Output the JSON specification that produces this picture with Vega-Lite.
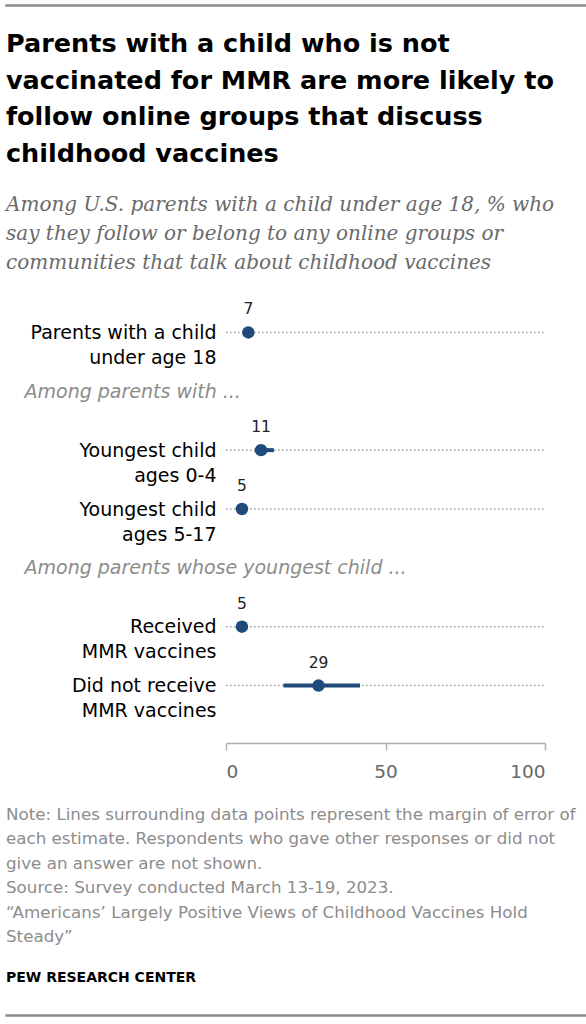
{
  "$schema": "https://vega.github.io/schema/vega-lite/v6.json",
  "background": "white",
  "padding": {"left": 5, "top": 4, "right": 0, "bottom": 0},
  "spacing": 25,
  "config": {
    "font": "DejaVu Sans",
    "view": {"stroke": null}
  },
  "vconcat": [
    {
      "width": 581,
      "height": 1,
      "view": {"stroke": "#8c8c8c", "strokeWidth": 1.5},
      "data": {"values": []},
      "mark": "rule",
      "encoding": {}
    },
    {
      "title": {
        "text": [
          "Parents with a child who is not",
          "vaccinated for MMR are more likely to",
          "follow online groups that discuss",
          "childhood vaccines"
        ],
        "subtitle": [
          "Among U.S. parents with a child under age 18, % who",
          "say they follow or belong to any online groups or",
          "communities that talk about childhood vaccines"
        ],
        "anchor": "start",
        "frame": "group",
        "font": "DejaVu Sans",
        "fontSize": 25.5,
        "fontWeight": "bold",
        "color": "#000000",
        "lineHeight": 36.5,
        "subtitleFont": "DejaVu Serif",
        "subtitleFontStyle": "italic",
        "subtitleFontSize": 20,
        "subtitleColor": "#6a6a6a",
        "subtitleLineHeight": 29,
        "subtitlePadding": 28,
        "offset": 29
      },
      "bounds": "flush",
      "spacing": 0,
      "hconcat": [
        {
          "width": 220,
          "height": 412,
          "data": {"values": []},
          "mark": "point",
          "encoding": {
            "y": {
              "field": "group",
              "type": "nominal",
              "scale": {
                "type": "point",
                "padding": 0.5,
                "domain": [
                  "Parents with a child|under age 18",
                  "Among parents with ...",
                  "Youngest child|ages 0-4",
                  "Youngest child|ages 5-17",
                  "Among parents whose youngest child ...",
                  "Received|MMR vaccines",
                  "Did not receive|MMR vaccines"
                ]
              },
              "axis": {
                "orient": "right",
                "title": null,
                "domain": false,
                "ticks": false,
                "grid": false,
                "labelExpr": "split(datum.label, '|')",
                "labelFont": "DejaVu Sans",
                "labelFontSize": 19,
                "labelLineHeight": 25,
                "labelLimit": 0,
                "labelAlign": {"condition": {"test": "indexof(datum.value, 'Among') == 0", "value": "left"}, "value": "right"},
                "labelPadding": {"condition": {"test": "indexof(datum.value, 'Among') == 0", "value": -202}, "value": -10},
                "labelFontStyle": {"condition": {"test": "indexof(datum.value, 'Among') == 0", "value": "italic"}, "value": "normal"},
                "labelColor": {"condition": {"test": "indexof(datum.value, 'Among') == 0", "value": "#8c8c8c"}, "value": "#000000"}
              }
            }
          }
        },
        {
          "width": 319,
          "height": 412,
          "data": {
            "values": [
              {"group": "Parents with a child|under age 18", "value": 7, "lo": 6, "hi": 8},
              {"group": "Youngest child|ages 0-4", "value": 11, "lo": 9, "hi": 15},
              {"group": "Youngest child|ages 5-17", "value": 5, "lo": 4, "hi": 6},
              {"group": "Received|MMR vaccines", "value": 5, "lo": 4, "hi": 6},
              {"group": "Did not receive|MMR vaccines", "value": 29, "lo": 18, "hi": 42}
            ]
          },
          "encoding": {
            "y": {
              "field": "group",
              "type": "nominal",
              "scale": {
                "type": "point",
                "padding": 0.5,
                "domain": [
                  "Parents with a child|under age 18",
                  "Among parents with ...",
                  "Youngest child|ages 0-4",
                  "Youngest child|ages 5-17",
                  "Among parents whose youngest child ...",
                  "Received|MMR vaccines",
                  "Did not receive|MMR vaccines"
                ]
              },
              "axis": null
            }
          },
          "layer": [
            {
              "mark": {"type": "rule", "color": "#9a9a9a", "strokeWidth": 1.5, "strokeDash": [1.5, 2.5]},
              "encoding": {
                "x": {"datum": 0, "type": "quantitative"},
                "x2": {"datum": 100}
              }
            },
            {
              "mark": {"type": "rule", "color": "#1f4a7c", "strokeWidth": 4},
              "encoding": {
                "x": {"field": "lo", "type": "quantitative"},
                "x2": {"field": "hi"}
              }
            },
            {
              "mark": {"type": "circle", "color": "#1f4a7c", "opacity": 1, "size": 155},
              "encoding": {
                "x": {
                  "field": "value",
                  "type": "quantitative",
                  "scale": {"domain": [0, 100], "nice": false, "zero": false},
                  "axis": {
                    "title": null,
                    "values": [0, 50, 100],
                    "grid": false,
                    "offset": 28,
                    "domainColor": "#b0b0b0",
                    "domainWidth": 1.5,
                    "tickColor": "#b0b0b0",
                    "tickWidth": 1.5,
                    "tickSize": 7,
                    "labelFont": "DejaVu Sans",
                    "labelFontSize": 18.5,
                    "labelColor": "#666666",
                    "labelPadding": 12
                  }
                }
              }
            },
            {
              "mark": {"type": "text", "baseline": "alphabetic", "dy": -18, "fontSize": 15.5, "color": "#222222", "font": "DejaVu Sans"},
              "encoding": {
                "x": {"field": "value", "type": "quantitative"},
                "text": {"field": "value", "type": "quantitative"}
              }
            }
          ]
        }
      ]
    },
    {
      "width": 581,
      "height": 1,
      "view": {"stroke": "#8c8c8c", "strokeWidth": 1.5},
      "title": {
        "text": [
          "Note: Lines surrounding data points represent the margin of error of",
          "each estimate. Respondents who gave other responses or did not",
          "give an answer are not shown.",
          "Source: Survey conducted March 13-19, 2023.",
          "“Americans’ Largely Positive Views of Childhood Vaccines Hold",
          "Steady”"
        ],
        "subtitle": "PEW RESEARCH CENTER",
        "anchor": "start",
        "frame": "group",
        "font": "DejaVu Sans",
        "fontSize": 16.7,
        "fontWeight": "normal",
        "color": "#8c8c8c",
        "lineHeight": 24.5,
        "subtitleFont": "DejaVu Sans",
        "subtitleFontWeight": "bold",
        "subtitleFontSize": 14,
        "subtitleColor": "#000000",
        "subtitlePadding": 25,
        "offset": 30
      },
      "data": {"values": []},
      "mark": "rule",
      "encoding": {}
    }
  ]
}
